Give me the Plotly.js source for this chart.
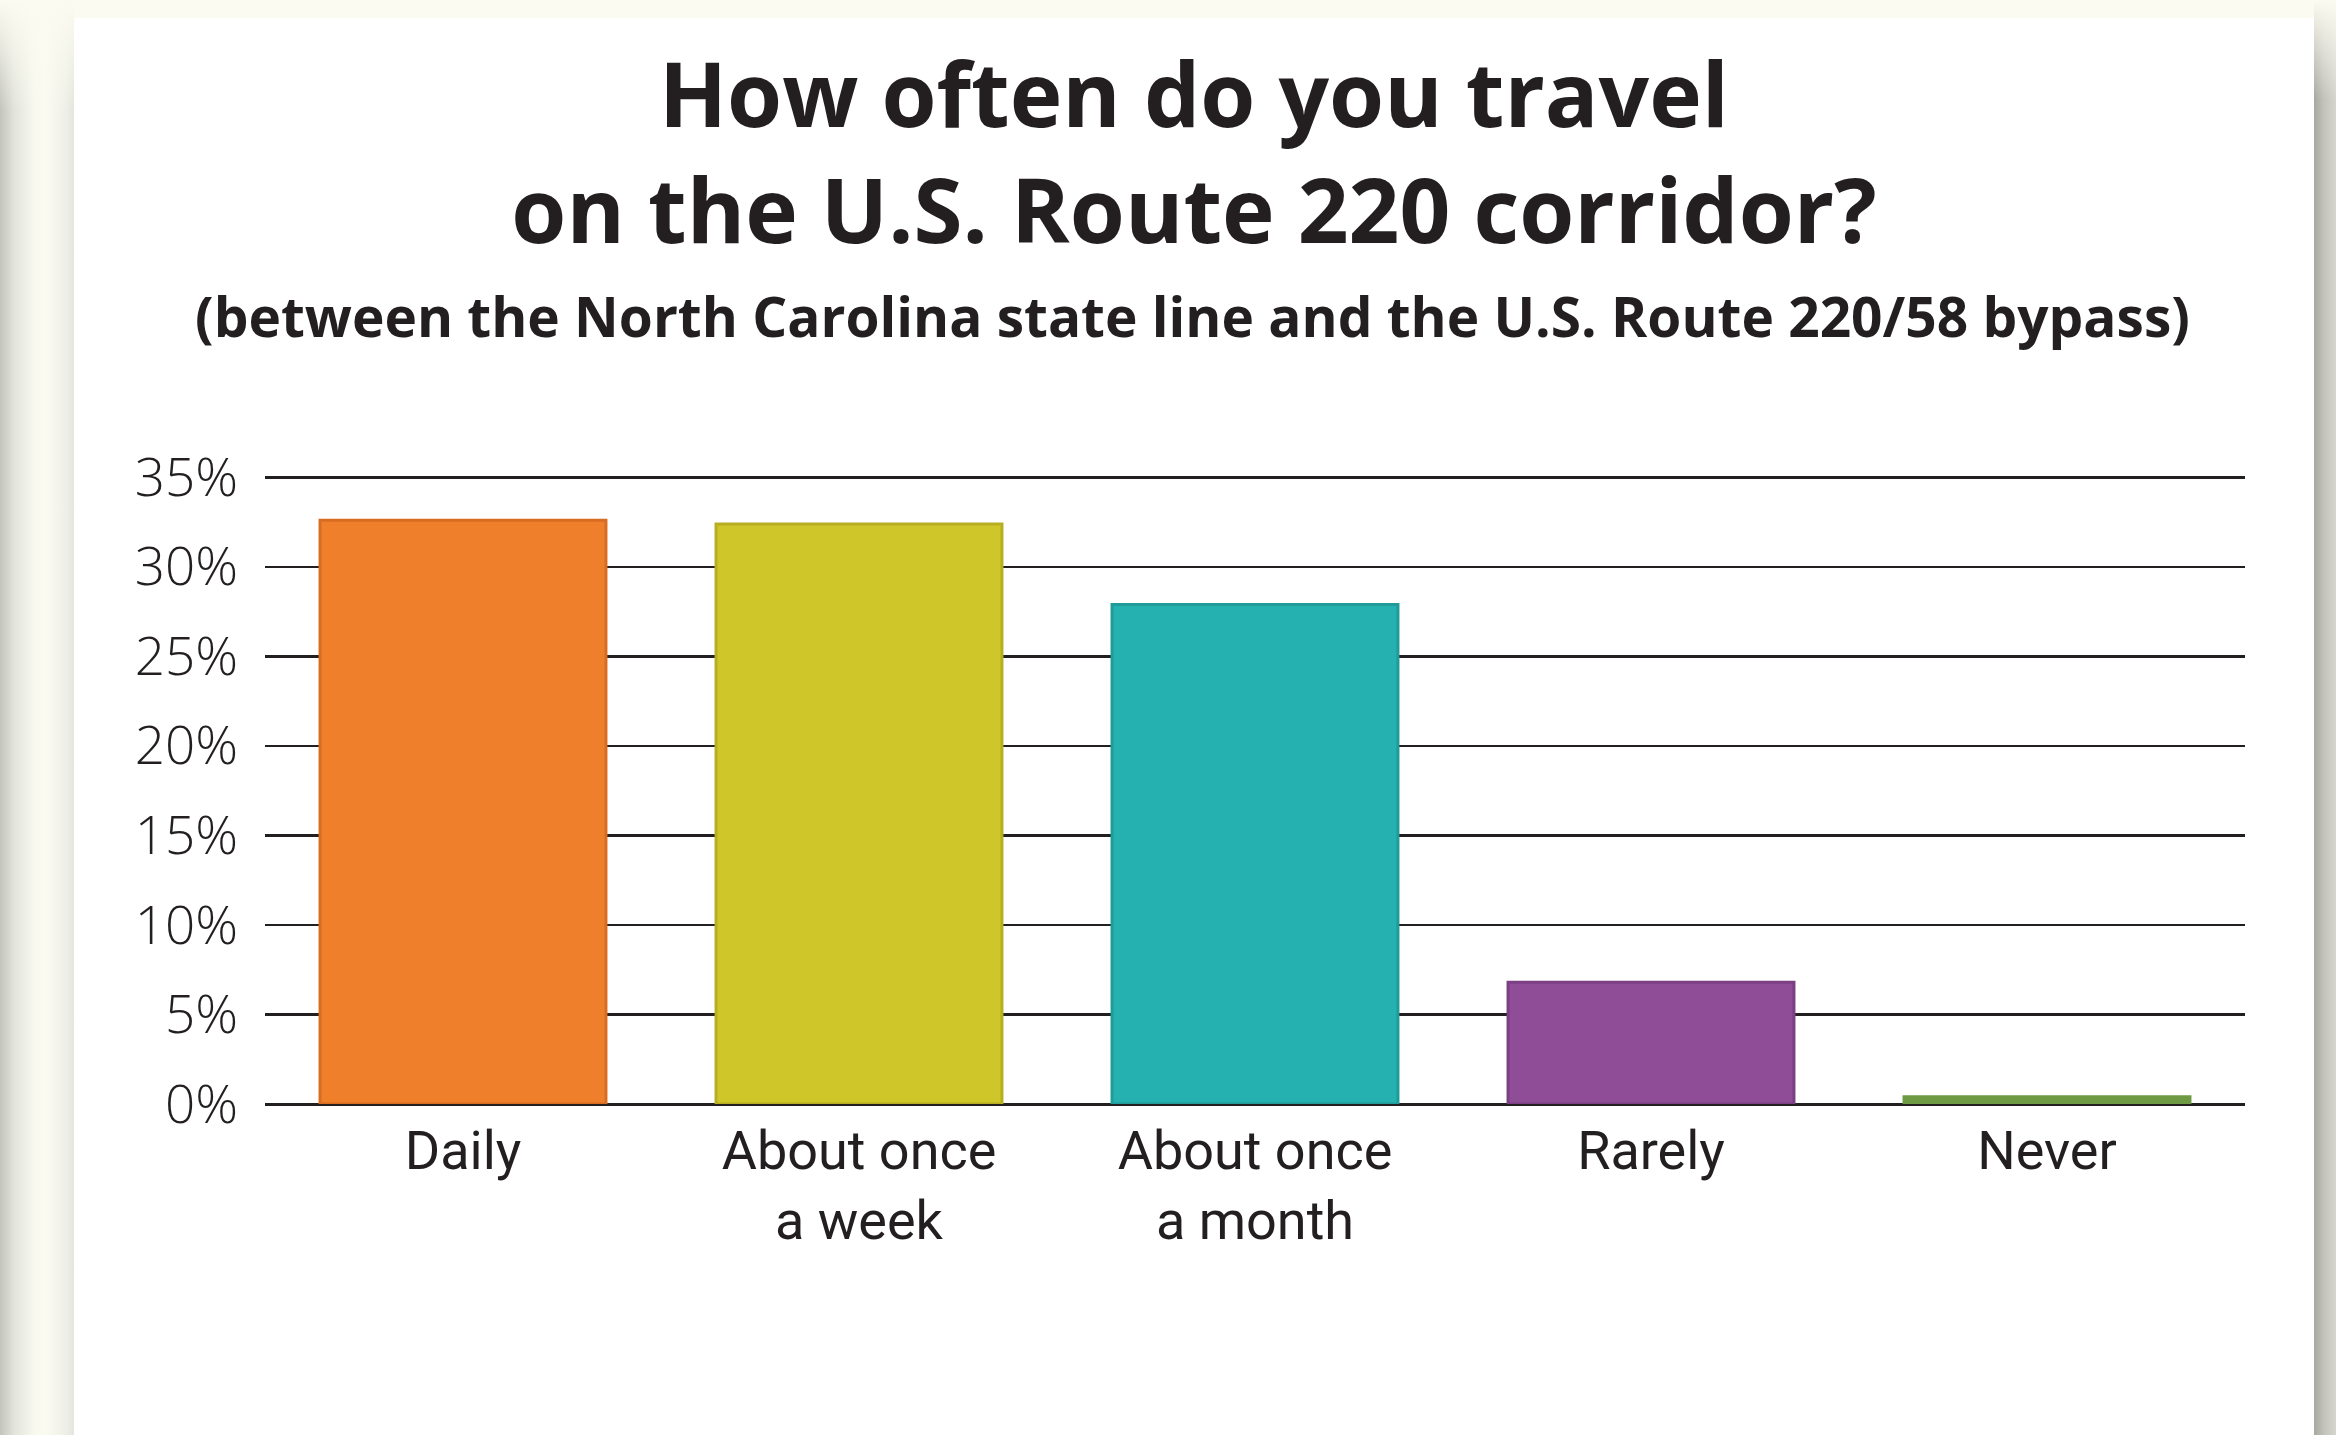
<!DOCTYPE html>
<html>
<head>
<meta charset="utf-8">
<script src="https://cdn.plot.ly/plotly-3.0.1.min.js"></script>
<style>
  html, body { margin:0; padding:0; width:2336px; height:1435px; overflow:hidden; }
  body { background:#fbfbf1; position:relative; }
  #lshadow { position:absolute; left:0; top:0; width:74px; height:1435px;
    background: linear-gradient(to right, #c3c4bc 0px, #e2e3da 14px, #f7f8ee 34px, #fbfbf1 45px, #eeefe6 66px, #e4e5dc 74px); }
  #lfade { position:absolute; left:0; top:0; width:74px; height:120px;
    background: linear-gradient(to bottom, #fbfbf1 0px, rgba(251,251,241,0.6) 50px, rgba(251,251,241,0) 110px); }
  #rshadow { position:absolute; left:2314px; top:0; width:22px; height:1435px;
    background: linear-gradient(to right, #a8a8a2 0px, #c2c3bb 10px, #d6d6ce 22px); }
  #rfade { position:absolute; left:2314px; top:0; width:22px; height:110px;
    background: linear-gradient(to bottom, #fbfbf1 0px, rgba(251,251,241,0.5) 50px, rgba(251,251,241,0) 100px); }
  #card { position:absolute; left:74px; top:18px; width:2240px; height:1417px; background:#ffffff; }
  #chart { position:absolute; left:0; top:0; width:2336px; height:1435px; }
</style>
</head>
<body>
<div id="lshadow"></div><div id="lfade"></div>
<div id="rshadow"></div><div id="rfade"></div>
<div id="card"></div>
<div id="chart"></div>
<script>
// Data
const categories = ["Daily", "About once<br>a week", "About once<br>a month", "Rarely", "Never"];
const percentages = [32.6, 32.4, 27.9, 6.8, 0.4];
const barColors = ["#f07f2c", "#cfc62a", "#25b1af", "#8f4c97", "#6f9a44"];
const barEdgeColors = ["#d86d22", "#b8ae22", "#1f9c9a", "#7c3f84", "#6f9a44"];
const yTickValues = [0, 5, 10, 15, 20, 25, 30, 35];
const yTickLabels = ["0%", "5%", "10%", "15%", "20%", "25%", "30%", "35%"];
const titleText = "How often do you travel<br>on the U.S. Route 220 corridor?";
const subtitle = "(between the North Carolina state line and the U.S. Route 220/58 bypass)";

const trace = {
  type: "bar",
  x: categories,
  y: percentages,
  marker: { color: barColors, line: { color: barEdgeColors, width: 3 } },
  hoverinfo: "x+y",
  cliponaxis: false
};

const layout = {
  width: 2336,
  height: 1435,
  paper_bgcolor: "rgba(0,0,0,0)",
  plot_bgcolor: "rgba(0,0,0,0)",
  margin: { l: 265, r: 91, t: 472, b: 331, pad: 0 },
  bargap: 0.278,
  showlegend: false,
  title: {
    text: titleText,
    font: { family: "Open Sans, sans-serif", size: 89, color: "#231f20", weight: 700 },
    x: 1194 / 2336, xanchor: "center", xref: "container",
    y: 1 - 127 / 1435, yanchor: "middle", yref: "container"
  },
  annotations: [
    {
      text: subtitle, xref: "paper", yref: "paper",
      x: (1192 - 265) / 1980, y: (1104 - 315) / 632, xanchor: "center", yanchor: "middle",
      showarrow: false,
      font: { family: "Open Sans, sans-serif", size: 55, color: "#231f20", weight: 700 }
    }
  ],
  xaxis: {
    type: "category",
    showgrid: false,
    zeroline: false,
    showline: false,
    ticks: "",
    tickfont: { family: "Roboto, sans-serif", size: 54, color: "#231f20" },
    ticklabelstandoff: 10
  },
  yaxis: {
    range: [0, 35.3],
    tickvals: yTickValues,
    ticktext: yTickLabels,
    showgrid: true,
    gridcolor: "#231f20",
    gridwidth: 2.5,
    zeroline: true,
    zerolinecolor: "#231f20",
    zerolinewidth: 3,
    showline: false,
    ticks: "",
    tickfont: { family: "Open Sans, sans-serif", size: 53, color: "#231f20", weight: 300 },
    ticklabelstandoff: 26
  }
};

Plotly.newPlot("chart", [trace], layout, { displayModeBar: false, staticPlot: true });
</script>
</body>
</html>
